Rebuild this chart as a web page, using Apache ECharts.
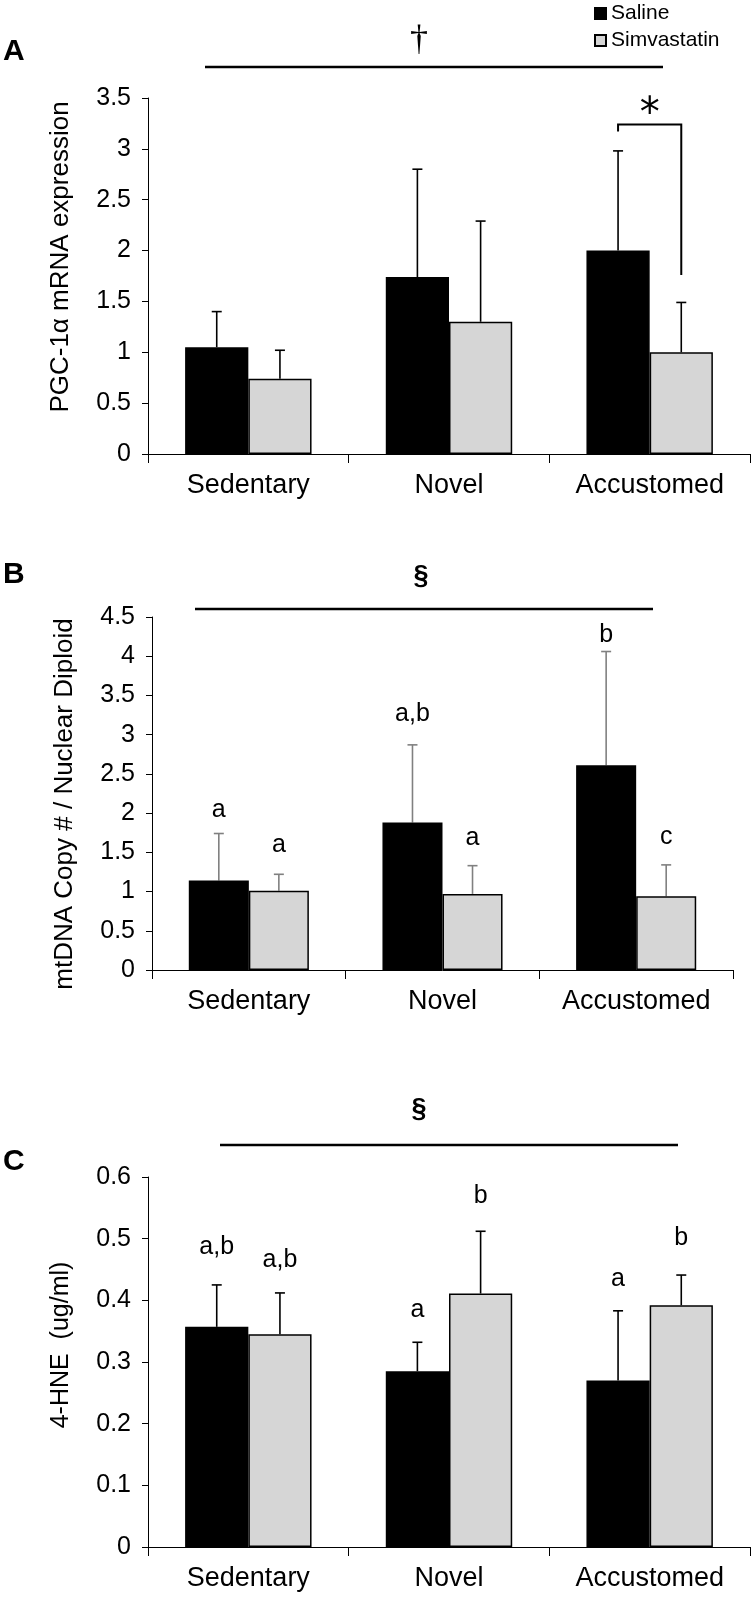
<!DOCTYPE html>
<html><head><meta charset="utf-8">
<script src="https://cdn.jsdelivr.net/npm/echarts@6/dist/echarts.min.js"></script>
<style>html,body{margin:0;padding:0;background:#fff}#c{width:754px;height:1598px}</style>
</head><body><div id="c"></div>
<script>
const categories = ['Sedentary', 'Novel', 'Accustomed'];
const seriesNames = ['Saline', 'Simvastatin'];

// Panel A: PGC-1α mRNA expression
const aSaline = [1.05, 1.74, 2.00];
const aSalineErr = [0.35, 1.06, 0.98];
const aSimva = [0.74, 1.30, 1.00];
const aSimvaErr = [0.28, 0.99, 0.49];
const aTicks = {min: 0, max: 3.5, interval: 0.5};
const aBracket = {cat: 2, top: 3.24, left: 3.17, right: 1.76, star: 3.41};

// Panel B: mtDNA copy # / nuclear diploid
const bSaline = [1.14, 1.88, 2.61];
const bSalineErr = [0.60, 0.99, 1.45];
const bSimva = [1.01, 0.97, 0.94];
const bSimvaErr = [0.21, 0.36, 0.40];
const bLetters = [['a', 'a'], ['a,b', 'a'], ['b', 'c']];
const bLetterY = [[2.04, 1.59], [3.26, 1.68], [4.27, 1.69]];
const bTicks = {min: 0, max: 4.5, interval: 0.5};

// Panel C: 4-HNE (ug/ml)
const cSaline = [0.357, 0.285, 0.270];
const cSalineErr = [0.068, 0.047, 0.113];
const cSimva = [0.345, 0.411, 0.392];
const cSimvaErr = [0.067, 0.101, 0.049];
const cLetters = [['a,b', 'a,b'], ['a', 'b'], ['a', 'b']];
const cLetterY = [[0.487, 0.466], [0.384, 0.569], [0.434, 0.501]];
const cTicks = {min: 0, max: 0.6, interval: 0.1};

const SIM_COLOR = '#d6d6d6';
const FONT = '"Liberation Sans", Arial, sans-serif';

function errData(vals, errs, side) {
  return vals.map((v, i) => [i, v, errs[i], side]);
}
function letterData(ys) {
  const out = [];
  ys.forEach((pair, i) => { out.push([i, pair[0], 0]); out.push([i, pair[1], 1]); });
  return out;
}
function flatLetters(ls) { const o = []; ls.forEach(p => { o.push(p[0]); o.push(p[1]); }); return o; }

function barX(api, cat, side, gap) {
  const c = api.coord([cat, 0]);
  const bw = api.size([1, 0])[0];
  const w = bw * (1 - gap) / 2;
  return c[0] + (side ? w / 2 : -w / 2);
}

function errSeries(idx, data, color, gap) {
  return {
    type: 'custom', xAxisIndex: idx, yAxisIndex: idx, data: data, z: 1, silent: true,
    renderItem: function (params, api) {
      const cat = api.value(0), v = api.value(1), e = api.value(2), side = api.value(3);
      const x = barX(api, cat, side, gap);
      const y0 = api.coord([cat, v])[1];
      const y1 = api.coord([cat, v + e])[1];
      const st = {stroke: color, lineWidth: 1.6};
      return {type: 'group', children: [
        {type: 'line', shape: {x1: x, y1: y0, x2: x, y2: y1}, style: st},
        {type: 'line', shape: {x1: x - 5, y1: y1, x2: x + 5, y2: y1}, style: st}
      ]};
    }
  };
}
function letterSeries(idx, data, texts, gap) {
  return {
    type: 'custom', xAxisIndex: idx, yAxisIndex: idx, data: data, silent: true,
    renderItem: function (params, api) {
      const cat = api.value(0), y = api.value(1), side = api.value(2);
      const x = barX(api, cat, side, gap);
      const py = api.coord([cat, y])[1];
      return {type: 'text', x: x, y: py, style: {text: texts[params.dataIndex], font: '25px ' + FONT, fill: '#000', align: 'center', verticalAlign: 'middle'}};
    }
  };
}
function barSeries(idx, name, vals, color, gap) {
  return {
    type: 'bar', name: name, xAxisIndex: idx, yAxisIndex: idx, data: vals,
    barGap: '0%', barCategoryGap: (gap * 100) + '%', z: 2,
    itemStyle: {color: color, borderColor: '#000', borderWidth: 1.5},
    emphasis: {disabled: true}
  };
}

const grids = [
  {left: 148, width: 602, top: 98, height: 356},
  {left: 152, width: 581, top: 617, height: 353},
  {left: 148, width: 602, top: 1177, height: 370}
];
const ticksAll = [aTicks, bTicks, cTicks];
const gaps = [0.37, 0.38, 0.37];

const xAxes = grids.map((g, i) => ({
  type: 'category', gridIndex: i, data: categories,
  axisLine: {lineStyle: {color: '#000', width: 1}},
  axisTick: {show: true, length: 9, lineStyle: {color: '#000'}},
  axisLabel: {color: '#000', fontSize: 27, fontFamily: FONT, margin: 18}
}));
const yAxes = grids.map((g, i) => ({
  type: 'value', gridIndex: i, min: ticksAll[i].min, max: ticksAll[i].max, interval: ticksAll[i].interval,
  axisLine: {show: true, lineStyle: {color: '#000', width: 1}},
  axisTick: {show: true, length: 6, lineStyle: {color: '#000'}},
  splitLine: {show: false},
  axisLabel: {color: '#000', fontSize: 25, fontFamily: FONT, margin: 17}
}));

const series = [
  barSeries(0, seriesNames[0], aSaline, '#000', gaps[0]),
  barSeries(0, seriesNames[1], aSimva, SIM_COLOR, gaps[0]),
  errSeries(0, errData(aSaline, aSalineErr, 0), '#000', gaps[0]),
  errSeries(0, errData(aSimva, aSimvaErr, 1), '#000', gaps[0]),
  {
    type: 'custom', xAxisIndex: 0, yAxisIndex: 0, silent: true,
    data: [[aBracket.cat, aBracket.top, aBracket.left, aBracket.right, aBracket.star]],
    renderItem: function (params, api) {
      const cat = api.value(0);
      const xl = barX(api, cat, 0, gaps[0]), xr = barX(api, cat, 1, gaps[0]);
      const yt = api.coord([cat, api.value(1)])[1];
      const yl = api.coord([cat, api.value(2)])[1];
      const yr = api.coord([cat, api.value(3)])[1];
      const ys = api.coord([cat, api.value(4)])[1];
      return {type: 'group', children: [
        {type: 'polyline', shape: {points: [[xl, yl], [xl, yt], [xr, yt], [xr, yr]]}, style: {stroke: '#000', lineWidth: 2, fill: null}},
        {type: 'text', x: (xl + xr) / 2, y: ys + 8, style: {text: '*', font: '40px "DejaVu Sans", sans-serif', fill: '#000', align: 'center', verticalAlign: 'middle'}}
      ]};
    }
  },
  barSeries(1, seriesNames[0], bSaline, '#000', gaps[1]),
  barSeries(1, seriesNames[1], bSimva, SIM_COLOR, gaps[1]),
  errSeries(1, errData(bSaline, bSalineErr, 0), '#808080', gaps[1]),
  errSeries(1, errData(bSimva, bSimvaErr, 1), '#808080', gaps[1]),
  letterSeries(1, letterData(bLetterY), flatLetters(bLetters), gaps[1]),
  barSeries(2, seriesNames[0], cSaline, '#000', gaps[2]),
  barSeries(2, seriesNames[1], cSimva, SIM_COLOR, gaps[2]),
  errSeries(2, errData(cSaline, cSalineErr, 0), '#000', gaps[2]),
  errSeries(2, errData(cSimva, cSimvaErr, 1), '#000', gaps[2]),
  letterSeries(2, letterData(cLetterY), flatLetters(cLetters), gaps[2])
];

function txt(x, y, text, font, align, rot) {
  return {type: 'text', x: x, y: y, rotation: rot || 0, silent: true,
    style: {text: text, font: font, fill: '#000', align: align || 'center', verticalAlign: 'middle'}};
}
function hline(x1, x2, y) {
  return {type: 'line', silent: true, shape: {x1: x1, y1: y, x2: x2, y2: y}, style: {stroke: '#000', lineWidth: 2.5}};
}
const graphics = [
  txt(3, 52, 'A', 'bold 30px ' + FONT, 'left'),
  txt(3, 575, 'B', 'bold 30px ' + FONT, 'left'),
  txt(3, 1162, 'C', 'bold 30px ' + FONT, 'left'),
  hline(205, 663, 67), txt(419, 41, '†', '36px "Liberation Serif", serif'),
  hline(195, 653, 609), txt(421, 577, '§', 'bold 27px ' + FONT),
  hline(220, 678, 1145), txt(419, 1110, '§', 'bold 27px ' + FONT),
  txt(61, 257, 'PGC-1α mRNA expression', '26px ' + FONT, 'center', Math.PI / 2),
  txt(65, 804, 'mtDNA Copy # / Nuclear Diploid', '26px ' + FONT, 'center', Math.PI / 2),
  txt(61, 1345, '4-HNE  (ug/ml)', '25px ' + FONT, 'center', Math.PI / 2)
];

const chart = echarts.init(document.getElementById('c'), null, {renderer: 'canvas'});
chart.setOption({
  animation: false,
  backgroundColor: '#fff',
  grid: grids,
  xAxis: xAxes,
  yAxis: yAxes,
  legend: {
    data: seriesNames, orient: 'vertical', left: 589, top: -2, itemWidth: 11, itemHeight: 11, itemGap: 6,
    icon: 'rect', selectedMode: false,
    textStyle: {color: '#000', fontSize: 21, fontFamily: FONT}
  },
  series: series,
  graphic: graphics
});
</script></body></html>
